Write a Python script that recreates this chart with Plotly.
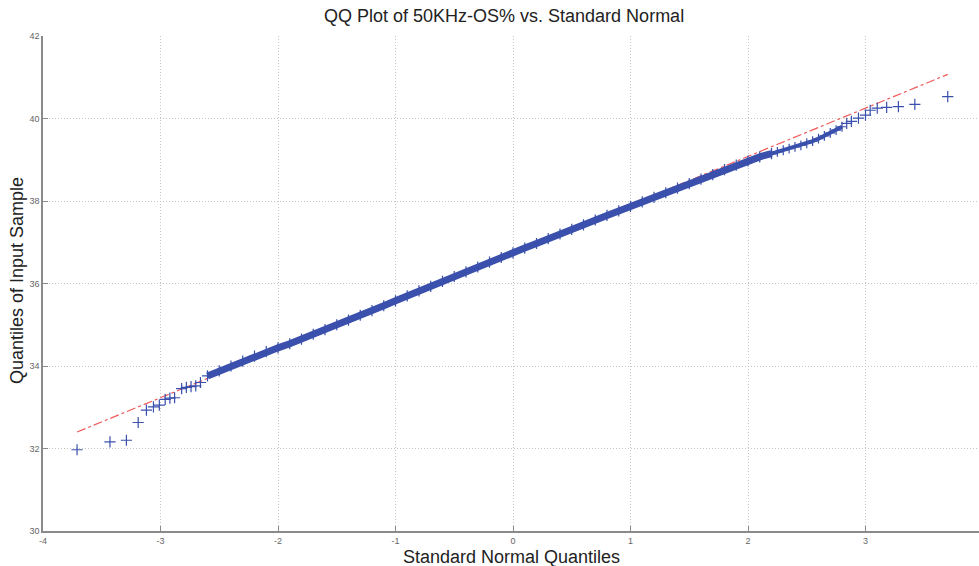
import plotly.graph_objects as go

# Central band of the QQ plot (standard normal quantile, sample quantile)
band_x = [-2.6, -2.5, -2.4, -2.3, -2.2, -2.1, -2.0, -1.9, -1.8, -1.7, -1.6, -1.5,
          -1.4, -1.3, -1.2, -1.1, -1.0, -0.9, -0.8, -0.7, -0.6, -0.5, -0.4, -0.3,
          -0.2, -0.1, 0.0, 0.1, 0.2, 0.3, 0.4, 0.5, 0.6, 0.7, 0.8, 0.9, 1.0, 1.1,
          1.2, 1.3, 1.4, 1.5, 1.6, 1.7, 1.8, 1.9, 2.0, 2.1, 2.2]
band_y = [33.76, 33.88, 34.00, 34.12, 34.24, 34.35, 34.44, 34.54, 34.65, 34.77,
          34.88, 35.00, 35.11, 35.23, 35.34, 35.46, 35.58, 35.70, 35.82, 35.93,
          36.05, 36.17, 36.28, 36.40, 36.52, 36.63, 36.74, 36.86, 36.97, 37.09,
          37.20, 37.31, 37.42, 37.54, 37.65, 37.76, 37.87, 37.98, 38.09, 38.20,
          38.31, 38.42, 38.53, 38.64, 38.76, 38.87, 38.97, 39.07, 39.15]

# Upper part of the band where it thins out
upper_x = [2.2, 2.25, 2.3, 2.35, 2.4, 2.45, 2.5, 2.55, 2.6, 2.65, 2.7, 2.75, 2.8]
upper_y = [39.15, 39.19, 39.23, 39.27, 39.31, 39.35, 39.40, 39.45, 39.51, 39.58,
           39.65, 39.72, 39.80]

# Sparse tail points
tail_x = [-3.71, -3.43, -3.29, -3.19, -3.12, -3.06, -3.01, -2.96, -2.92, -2.88,
          -2.82, -2.78, -2.74, -2.70, -2.66,
          2.84, 2.88, 2.94, 3.00, 3.04, 3.10, 3.18, 3.28, 3.42, 3.70]
tail_y = [31.97, 32.16, 32.20, 32.63, 32.93, 33.01, 33.05, 33.19, 33.22, 33.23,
          33.45, 33.48, 33.50, 33.52, 33.60,
          39.88, 39.93, 40.01, 40.08, 40.20, 40.25, 40.27, 40.29, 40.34, 40.53]

# Reference line endpoints
ref_x = [-3.71, 3.70]
ref_y = [32.40, 41.07]

x_ticks = [-4, -3, -2, -1, 0, 1, 2, 3, 4]
y_ticks = [30, 32, 34, 36, 38, 40, 42]

blue = "rgb(58,80,172)"
red = "rgb(240,90,90)"

fig = go.Figure()
fig.add_trace(go.Scatter(x=ref_x, y=ref_y, mode="lines",
                         line=dict(color=red, width=1.2, dash="dashdot"),
                         showlegend=False))
fig.add_trace(go.Scatter(x=band_x, y=band_y, mode="lines+markers",
                         line=dict(color=blue, width=7),
                         marker=dict(symbol="cross-thin-open", size=8, color=blue,
                                     line=dict(color=blue, width=1.2)),
                         showlegend=False, hoverinfo="skip"))
fig.add_trace(go.Scatter(x=upper_x, y=upper_y, mode="lines+markers",
                         line=dict(color=blue, width=4),
                         marker=dict(symbol="cross-thin-open", size=7, color=blue,
                                     line=dict(color=blue, width=1.2)),
                         showlegend=False, hoverinfo="skip"))
fig.add_trace(go.Scatter(x=tail_x, y=tail_y, mode="markers",
                         marker=dict(symbol="cross-thin-open", size=8, color=blue,
                                     line=dict(color=blue, width=1.2)),
                         showlegend=False))

axis_common = dict(showline=True, linecolor="#8a8a8a", linewidth=1.5,
                   ticks="inside", ticklen=5, tickcolor="#8a8a8a", tickwidth=1,
                   showgrid=True, gridcolor="#c4c4c4", griddash="1px,2px", gridwidth=1,
                   zeroline=False, mirror=False,
                   tickfont=dict(family="Liberation Sans, Arial", size=9, color="#666"))

fig.update_xaxes(range=[-4, 3.966], tickmode="array", tickvals=x_ticks,
                 ticktext=[str(v) for v in x_ticks], **axis_common)
fig.update_yaxes(range=[30, 42], tickmode="array", tickvals=y_ticks,
                 ticktext=[str(v) for v in y_ticks], **axis_common)

fig.update_layout(
    width=979, height=566,
    margin=dict(l=43, r=0, t=36, b=35),
    plot_bgcolor="white", paper_bgcolor="white",
    font=dict(family="Liberation Sans, Arial", color="#222"),
    annotations=[
        dict(text="QQ Plot of 50KHz-OS% vs. Standard Normal", xref="paper", yref="paper",
             x=0.492, y=1.0, yshift=20, showarrow=False, xanchor="center", yanchor="middle",
             font=dict(size=18, color="#222")),
        dict(text="Standard Normal Quantiles", xref="paper", yref="paper",
             x=0.5, y=0, yshift=-26, showarrow=False, xanchor="center", yanchor="middle",
             font=dict(size=18, color="#222")),
        dict(text="Quantiles of Input Sample", xref="paper", yref="paper",
             x=0, xshift=-26, y=0.505, showarrow=False, textangle=-90,
             xanchor="center", yanchor="middle",
             font=dict(size=18, color="#222")),
    ],
)

fig.write_html("out.html", config={"displayModeBar": False},
               post_script="document.body.style.margin='0';document.body.style.overflow='hidden';")
